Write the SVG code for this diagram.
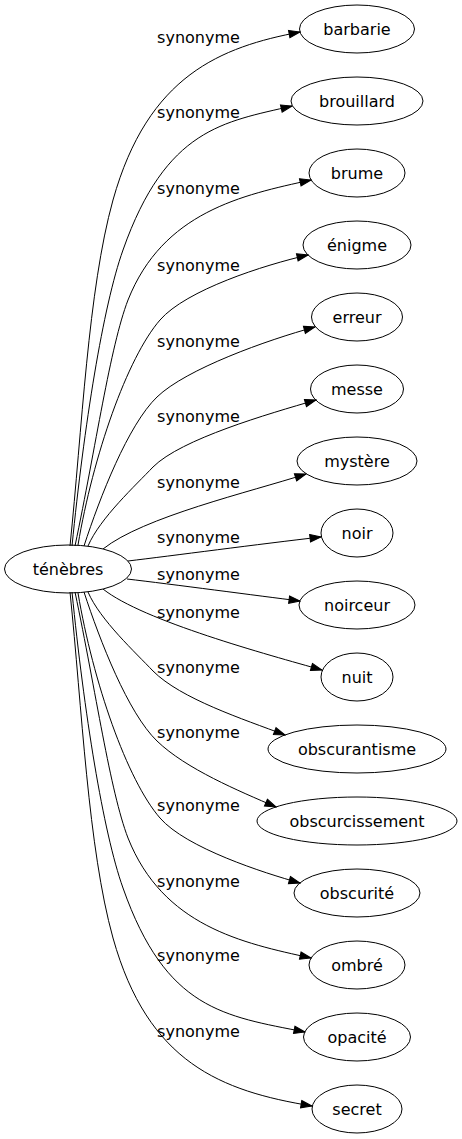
<svg xmlns="http://www.w3.org/2000/svg" width="462" height="1139" viewBox="0 0 462 1139">
<style>
.n ellipse{fill:none;stroke:#000;stroke-width:1}
.n text{font-family:"DejaVu Sans",sans-serif;font-size:16px;fill:#000;text-anchor:middle}
.e path{fill:none;stroke:#000;stroke-width:1;marker-end:url(#arr)}
.e text{font-family:"DejaVu Sans",sans-serif;font-size:16px;fill:#000;text-anchor:middle}
</style>
<defs>
<marker id="arr" viewBox="-1 -5 13 10" refX="11" refY="0" markerWidth="13" markerHeight="10" markerUnits="userSpaceOnUse" orient="auto">
<path d="M0,-3.7 L11,0 L0,3.7 z" fill="#000" stroke="#000" stroke-width="1"/>
</marker>
</defs>
<rect width="462" height="1139" fill="#fff"/>
<g id="edges" class="e">
<path d="M70,546 C82,430 88,290 113,200 C148,75 221,47 300,32"/>
<path d="M72,546 C84,426 103,306 123,250 C166,128 224,122 292,106"/>
<path d="M75,546 C96,446 110,347 128,300 C163,212 242,195 311,180"/>
<path d="M78,545 C93,456 127,358 160,320 C186,290 264,265 308,255"/>
<path d="M84,546 C100,497 128,425 157,397 C186,369 267,340 315,327"/>
<path d="M88,546 C100,518 136,485 153,467 C181,439 268,414 316,400"/>
<path d="M103,549 C143,517 250,492 306,474"/>
<path d="M128,561 C170,556 260,544 321,537"/>
<path d="M127,579 C170,584 260,596 300,601"/>
<path d="M103,589 C143,621 269,655 322,670"/>
<path d="M88,592 C100,620 136,653 153,671 C181,699 243,719 285,735"/>
<path d="M84,592 C100,641 128,713 157,741 C186,769 239,791 276,807"/>
<path d="M78,593 C93,682 127,780 160,818 C186,848 264,873 300,883"/>
<path d="M75,592 C96,692 110,791 128,838 C163,926 242,943 311,958"/>
<path d="M72,592 C84,712 103,832 123,888 C166,1010 224,1016 305,1032"/>
<path d="M70,592 C82,708 88,848 113,938 C148,1063 221,1091 312,1106"/>
<text x="198.5" y="43">synonyme</text>
<text x="198.5" y="118">synonyme</text>
<text x="198.5" y="194">synonyme</text>
<text x="198.5" y="271">synonyme</text>
<text x="198.5" y="347">synonyme</text>
<text x="198.5" y="422">synonyme</text>
<text x="198.5" y="488">synonyme</text>
<text x="198.5" y="543">synonyme</text>
<text x="198.5" y="580">synonyme</text>
<text x="198.5" y="618">synonyme</text>
<text x="198.5" y="673">synonyme</text>
<text x="198.5" y="738">synonyme</text>
<text x="198.5" y="811">synonyme</text>
<text x="198.5" y="887">synonyme</text>
<text x="198.5" y="961">synonyme</text>
<text x="198.5" y="1037">synonyme</text>
</g>
<g id="tenebres" class="n"><ellipse cx="68" cy="569" rx="63.5" ry="24"/><text x="68" y="574.5">ténèbres</text></g>
<g id="barbarie" class="n"><ellipse cx="357" cy="29" rx="57.5" ry="24"/><text x="357" y="34.5">barbarie</text></g>
<g id="brouillard" class="n"><ellipse cx="357" cy="101" rx="66" ry="24"/><text x="357" y="106.5">brouillard</text></g>
<g id="brume" class="n"><ellipse cx="357" cy="173" rx="48" ry="24"/><text x="357" y="178.5">brume</text></g>
<g id="enigme" class="n"><ellipse cx="357" cy="245" rx="54" ry="24"/><text x="357" y="250.5">énigme</text></g>
<g id="erreur" class="n"><ellipse cx="357" cy="317" rx="45.5" ry="24"/><text x="357" y="322.5">erreur</text></g>
<g id="messe" class="n"><ellipse cx="357" cy="389" rx="46.5" ry="24"/><text x="357" y="394.5">messe</text></g>
<g id="mystere" class="n"><ellipse cx="357" cy="461" rx="60" ry="24"/><text x="357" y="466.5">mystère</text></g>
<g id="noir" class="n"><ellipse cx="357" cy="533" rx="36" ry="24"/><text x="357" y="538.5">noir</text></g>
<g id="noirceur" class="n"><ellipse cx="357" cy="605" rx="58" ry="24"/><text x="357" y="610.5">noirceur</text></g>
<g id="nuit" class="n"><ellipse cx="357" cy="677" rx="36" ry="24"/><text x="357" y="682.5">nuit</text></g>
<g id="obscurantisme" class="n"><ellipse cx="357" cy="749" rx="89" ry="24"/><text x="357" y="754.5">obscurantisme</text></g>
<g id="obscurcissement" class="n"><ellipse cx="357" cy="821" rx="100" ry="24"/><text x="357" y="826.5">obscurcissement</text></g>
<g id="obscurite" class="n"><ellipse cx="357" cy="893" rx="63" ry="24"/><text x="357" y="898.5">obscurité</text></g>
<g id="ombre" class="n"><ellipse cx="357" cy="965" rx="48" ry="24"/><text x="357" y="970.5">ombré</text></g>
<g id="opacite" class="n"><ellipse cx="357" cy="1037" rx="53.5" ry="24"/><text x="357" y="1042.5">opacité</text></g>
<g id="secret" class="n"><ellipse cx="357" cy="1109" rx="45" ry="24"/><text x="357" y="1114.5">secret</text></g>
</svg>
